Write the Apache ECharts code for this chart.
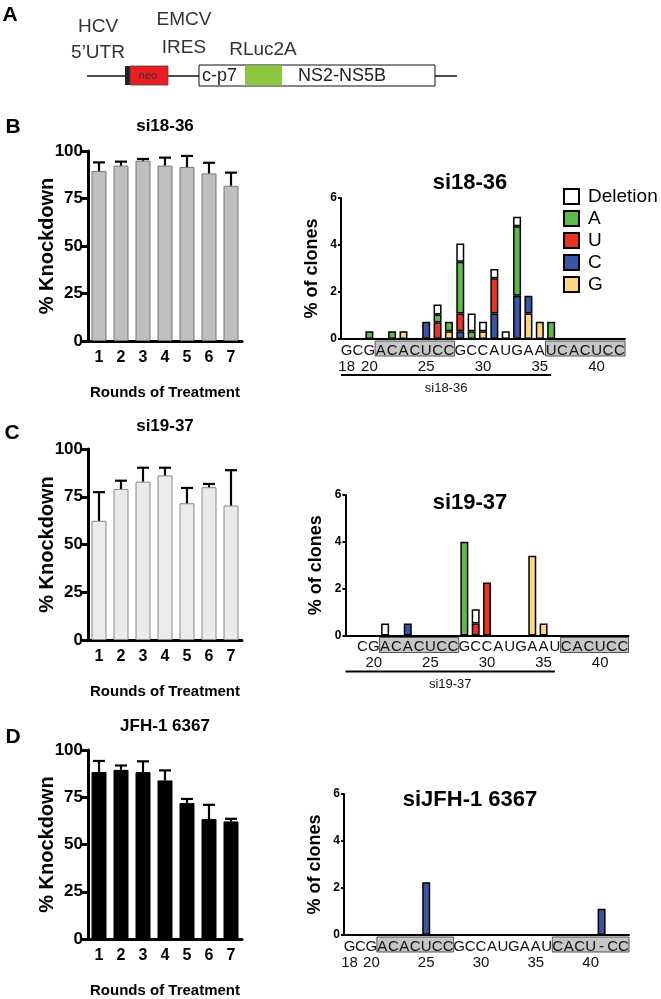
<!DOCTYPE html>
<html><head><meta charset="utf-8">
<script src="https://cdn.jsdelivr.net/npm/echarts@6/dist/echarts.min.js"></script>
<style>html,body{margin:0;padding:0;background:#fff}#c{width:661px;height:999px}</style>
</head><body><div id="c"></div>
<script>
const FONT = "'Liberation Sans', Arial, Helvetica, sans-serif";

// ---- Left panels: % knockdown per round ----
const rounds = ['1','2','3','4','5','6','7'];
const kdB = [89.5, 92.3, 94.9, 92.3, 91.6, 88.2, 81.7];
const errB = [4.5, 2.1, 0.9, 4.2, 5.8, 5.6, 6.9];
const kdC = [62.4, 79.1, 82.9, 86.2, 71.6, 80.0, 70.4];
const errC = [15.0, 4.3, 7.3, 4.0, 8.0, 1.7, 18.5];
const kdD = [88.3, 89.5, 88.3, 83.9, 71.9, 63.5, 62.2];
const errD = [5.9, 2.3, 5.7, 5.3, 2.2, 7.5, 1.4];

// ---- Right panels: sequences (categories) and position tick labels ----
const seqB = ['G','C','G','A','C','A','C','U','C','C','G','C','C','A','U','G','A','A','U','C','A','C','U','C','C'];
const numsB = ['18','','20','','','','','25','','','','','30','','','','','35','','','','','40','',''];
const seqC = ['','C','G','A','C','A','C','U','C','C','G','C','C','A','U','G','A','A','U','C','A','C','U','C','C'];
const numsC = ['','','20','','','','','25','','','','','30','','','','','35','','','','','40','',''];
const seqD = ['G','C','G','A','C','A','C','U','C','C','G','C','C','A','U','G','A','A','U','C','A','C','U','-','C','C'];
const numsD = ['18','','20','','','','','25','','','','','30','','','','','35','','','','','40','','',''];

// ---- % of clones, stacked bottom->top: G, C, U, A, Deletion ----
const bG =   [null,null,null,null,null,0.33,null,null,null,0.33,null,null,0.33,null,null,null,1.08,0.73,null,null,null,null,null,null,null];
const bC =   [null,null,null,null,null,null,null,0.73,null,null,0.33,null,null,1.08,null,1.84,0.76,null,null,null,null,null,null,null,null];
const bU =   [null,null,null,null,null,null,null,null,0.70,null,0.75,null,null,1.50,null,null,null,null,null,null,null,null,null,null,null];
const bA =   [null,null,0.33,null,0.33,null,null,null,0.34,0.40,2.21,0.33,null,null,null,2.96,null,null,0.73,null,null,null,null,null,null];
const bDel = [null,null,null,null,null,null,null,null,0.43,null,0.77,0.75,0.40,0.40,0.33,0.40,null,null,null,null,null,null,null,null,null];

const cG =   [null,null,null,null,null,null,null,null,null,null,null,null,null,null,null,null,3.41,0.51,null,null,null,null,null,null,null];
const cC =   [null,null,null,null,null,0.51,null,null,null,null,null,null,null,null,null,null,null,null,null,null,null,null,null,null,null];
const cU =   [null,null,null,null,null,null,null,null,null,null,null,0.51,2.26,null,null,null,null,null,null,null,null,null,null,null,null];
const cA =   [null,null,null,null,null,null,null,null,null,null,4.00,null,null,null,null,null,null,null,null,null,null,null,null,null,null];
const cDel = [null,null,null,0.51,null,null,null,null,null,null,null,0.61,null,null,null,null,null,null,null,null,null,null,null,null,null];

const dC =   [null,null,null,null,null,null,null,2.25,null,null,null,null,null,null,null,null,null,null,null,null,null,null,null,1.12,null,null];

const mutNames = ['Deletion','A','U','C','G'];
const mutColors = {G:'#fdd680', C:'#3a55a4', U:'#ea3323', A:'#5dba47', Deletion:'#ffffff'};

function leftX(g){
  return {type:'category', gridIndex:g, data:rounds, position:'bottom',
    axisLine:{lineStyle:{color:'#000', width:3}},
    axisTick:{alignWithLabel:true, length:6, lineStyle:{color:'#000', width:3}},
    axisLabel:{color:'#000', fontWeight:'bold', fontSize:16, margin:9, fontFamily:FONT},
    name:'Rounds of Treatment', nameLocation:'middle', nameGap:44, nameMoveOverlap:false,
    nameTextStyle:{color:'#000', fontWeight:'bold', fontSize:15, fontFamily:FONT}};
}
function leftY(g){
  return {type:'value', gridIndex:g, min:0, max:100, interval:25,
    axisLine:{show:true, lineStyle:{color:'#000', width:3}},
    axisTick:{show:true, length:6, lineStyle:{color:'#000', width:3}},
    splitLine:{show:false},
    axisLabel:{color:'#000', fontWeight:'bold', fontSize:17, margin:5, fontFamily:FONT},
    name:'% Knockdown', nameLocation:'middle', nameGap:31, nameMoveOverlap:false,
    nameTextStyle:{color:'#000', fontWeight:'bold', fontSize:20, fontFamily:FONT}};
}
function seqX(g, seq){
  return {type:'category', gridIndex:g, data:seq, position:'bottom',
    axisLine:{lineStyle:{color:'#000', width:2}}, axisTick:{show:false},
    axisLabel:{interval:0, color:'#111', fontSize:15, margin:4, fontFamily:FONT}};
}
function numX(g, nums){
  return {type:'category', gridIndex:g, data:nums, position:'bottom', offset:0,
    axisLine:{show:false}, axisTick:{show:false},
    axisLabel:{interval:0, color:'#111', fontSize:15, margin:20, fontFamily:FONT}};
}
function rightY(g){
  return {type:'value', gridIndex:g, min:0, max:6, interval:2,
    axisLine:{show:true, lineStyle:{color:'#000', width:2}},
    axisTick:{show:true, length:3, lineStyle:{color:'#000', width:2}},
    splitLine:{show:false},
    axisLabel:{color:'#000', fontWeight:'bold', fontSize:12, margin:4, fontFamily:FONT},
    name:'% of clones', nameLocation:'middle', nameGap:20, nameMoveOverlap:false,
    nameTextStyle:{color:'#000', fontWeight:'bold', fontSize:18, fontFamily:FONT}};
}

function errRender(params, api){
  const i = api.value(0);
  const p0 = api.coord([i, api.value(1)]);
  const p1 = api.coord([i, api.value(2)]);
  const st = {stroke:'#000', lineWidth:2.2};
  return {type:'group', children:[
    {type:'line', shape:{x1:p0[0], y1:p0[1], x2:p1[0], y2:p1[1]}, style:st},
    {type:'line', shape:{x1:p1[0]-6, y1:p1[1], x2:p1[0]+6, y2:p1[1]}, style:st}
  ]};
}
function kdSeries(xi, yi, vals, errs, fill, border){
  return [
    {type:'bar', xAxisIndex:xi, yAxisIndex:yi, data:vals, barWidth:15,
     itemStyle:{color:fill, borderColor:border, borderWidth:1}},
    {type:'custom', xAxisIndex:xi, yAxisIndex:yi, z:5,
     data: vals.map((v,i)=>[i, v, v + errs[i]]), renderItem: errRender}
  ];
}
function mutSeries(xi, yi, stack, byName){
  const out = [];
  ['G','C','U','A','Deletion'].forEach(n=>{
    if (!byName[n]) return;
    out.push({type:'bar', name:n, stack:stack, xAxisIndex:xi, yAxisIndex:yi, data:byName[n], barWidth:8,
      itemStyle:{color:mutColors[n], borderColor:'#000', borderWidth:1.5}});
  });
  return out;
}

const option = {
  animation:false,
  textStyle:{fontFamily:FONT},
  title:[
    {text:'si18-36', left:165, top:118, textAlign:'center', padding:0, textStyle:{fontSize:17, fontWeight:'bold', color:'#000', fontFamily:FONT}},
    {text:'si19-37', left:165, top:418, textAlign:'center', padding:0, textStyle:{fontSize:17, fontWeight:'bold', color:'#000', fontFamily:FONT}},
    {text:'JFH-1 6367', left:165, top:718, textAlign:'center', padding:0, textStyle:{fontSize:17, fontWeight:'bold', color:'#000', fontFamily:FONT}},
    {text:'si18-36', left:470, top:172, textAlign:'center', padding:0, textStyle:{fontSize:22, fontWeight:'bold', color:'#000', fontFamily:FONT}},
    {text:'si19-37', left:470, top:492, textAlign:'center', padding:0, textStyle:{fontSize:22, fontWeight:'bold', color:'#000', fontFamily:FONT}},
    {text:'siJFH-1 6367', left:470, top:789, textAlign:'center', padding:0, textStyle:{fontSize:22, fontWeight:'bold', color:'#000', fontFamily:FONT}}
  ],
  legend:{data:mutNames, orient:'vertical', left:563, top:187, padding:0, itemWidth:15, itemHeight:15, itemGap:3,
    icon:'rect', selectedMode:false,
    itemStyle:{borderColor:'#000', borderWidth:2},
    textStyle:{fontSize:19, color:'#000', fontFamily:FONT, padding:[0,0,0,4]}},
  grid:[
    {left:88, top:151, width:154, height:190},
    {left:341, top:198, width:284, height:141},
    {left:88, top:449, width:154, height:191},
    {left:345.5, top:495, width:283, height:140.5},
    {left:88, top:750, width:154, height:191},
    {left:344, top:794, width:285, height:141}
  ],
  xAxis:[
    leftX(0), seqX(1, seqB), numX(1, numsB),
    leftX(2), seqX(3, seqC), numX(3, numsC),
    leftX(4), seqX(5, seqD), numX(5, numsD)
  ],
  yAxis:[leftY(0), rightY(1), leftY(2), rightY(3), leftY(4), rightY(5)],
  series:[].concat(
    kdSeries(0, 0, kdB, errB, '#bfbfbf', '#777'),
    kdSeries(3, 2, kdC, errC, '#ebebeb', '#888'),
    kdSeries(6, 4, kdD, errD, '#000', '#000'),
    mutSeries(1, 1, 'b', {G:bG, C:bC, U:bU, A:bA, Deletion:bDel}),
    mutSeries(4, 3, 'c', {G:cG, C:cC, U:cU, A:cA, Deletion:cDel}),
    mutSeries(7, 5, 'd', {C:dC})
  )
};

const chart = echarts.init(document.getElementById('c'), null, {renderer:'canvas'});
chart.setOption(option);

// ---- decorations computed from the axes ----
const els = [];
function T(text, x, y, size, opts){
  els.push({type:'text', x:x, y:y, style:{text:text, font:(opts&&opts.bold?'bold ':'')+size+'px '+FONT,
    fill:(opts&&opts.fill)||'#000', align:(opts&&opts.align)||'center', verticalAlign:'middle'}});
}
// panel letters
T('A', 10, 15, 21, {bold:true});
T('B', 13, 127, 21, {bold:true});
T('C', 12, 433, 21, {bold:true});
T('D', 13, 737, 21, {bold:true});
// panel A construct
els.push({type:'line', shape:{x1:87, y1:76, x2:457, y2:76}, style:{stroke:'#111', lineWidth:1.5}});
els.push({type:'rect', shape:{x:125, y:66, width:5, height:19}, style:{fill:'#222'}});
els.push({type:'rect', shape:{x:130, y:66, width:38, height:19}, style:{fill:'#ed1c24', stroke:'#444', lineWidth:0.8}});
els.push({type:'rect', shape:{x:199, y:65, width:236, height:21}, style:{fill:'#fff', stroke:'#111', lineWidth:1}});
els.push({type:'rect', shape:{x:245, y:65.5, width:37, height:20}, style:{fill:'#8dc63f'}});
T('neo', 148, 76, 11, {fill:'#333'});
T('c-p7', 202, 76, 18, {fill:'#222', align:'left'});
T('NS2-NS5B', 342, 76, 18, {fill:'#222'});
T('HCV', 98, 27, 19, {fill:'#333'});
T('5\u2019UTR', 98, 53, 19, {fill:'#333'});
T('EMCV', 184, 20, 19, {fill:'#333'});
T('IRES', 184, 48, 19, {fill:'#333'});
T('RLuc2A', 263, 50, 19, {fill:'#333'});

function P(xi, yi, idx){ return chart.convertToPixel({xAxisIndex:xi, yAxisIndex:yi}, [idx, 0]); }
function seqDeco(xi, yi, boxes, underEnd, label){
  const a = P(xi, yi, 0), b = P(xi, yi, 1);
  const hb = (b[0]-a[0])/2, y0 = a[1];
  boxes.forEach(r=>{
    const l = P(xi, yi, r[0])[0]-hb, rr = P(xi, yi, r[1])[0]+hb;
    els.push({type:'rect', z:-1, shape:{x:l, y:y0+2, width:rr-l, height:15}, style:{fill:'#c6c6c6', stroke:'#555', lineWidth:1}});
  });
  if (underEnd != null){
    const x1 = a[0]-hb, x2 = P(xi, yi, underEnd)[0];
    els.push({type:'line', shape:{x1:x1, y1:y0+36, x2:x2, y2:y0+36}, style:{stroke:'#000', lineWidth:2}});
    T(label, (x1+x2)/2, y0+49, 13, {fill:'#111'});
  }
}
seqDeco(1, 1, [[3,9],[18,24]], 18, 'si18-36');
seqDeco(4, 3, [[3,9],[19,24]], 18, 'si19-37');
seqDeco(7, 5, [[3,9],[19,25]], null, null);

chart.setOption({graphic:{elements:els}});
</script>
</body></html>
